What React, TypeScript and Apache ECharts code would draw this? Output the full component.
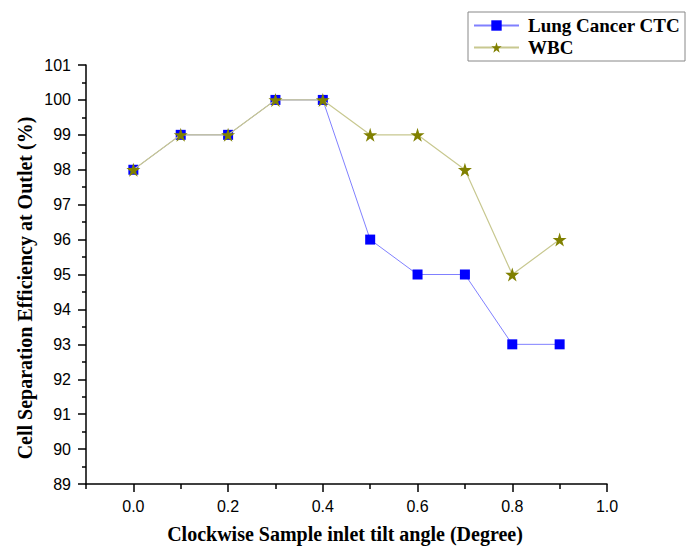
import React, { useEffect, useRef } from "react";
import * as echarts from "echarts";

const angles = [0, 0.1, 0.2, 0.3, 0.4, 0.5, 0.6, 0.7, 0.8, 0.9];
const lungCTC = [98, 99, 99, 100, 100, 96, 95, 95, 93, 93];
const wbc = [98, 99, 99, 100, 100, 99, 99, 98, 95, 96];
const xMajorTicks = [0, 0.2, 0.4, 0.6, 0.8, 1.0];
const xMinorTicks = [-0.1, 0.1, 0.3, 0.5, 0.7, 0.9];
const yTitle = "Cell Separation Efficiency at Outlet (%)";
const xTitle = "Clockwise Sample inlet tilt angle (Degree)";

const STAR =
  "path://M50,0 L61.2,34.5 L97.6,34.5 L68.2,55.9 L79.4,90.5 L50,69.1 L20.6,90.5 L31.8,55.9 L2.4,34.5 L38.8,34.5 Z";

export default function App() {
  const ref = useRef<HTMLDivElement>(null);
  useEffect(() => {
    document.body.style.margin = "0";
    const chart = echarts.init(ref.current!, null, { renderer: "svg" });
    const labelFont = { fontFamily: "Liberation Sans, Arial, sans-serif", fontSize: 16, color: "#000" };
    chart.setOption({
      animation: false,
      backgroundColor: "#fff",
      grid: { left: 86, right: 79, top: 65, bottom: 63, containLabel: false },
      legend: {
        orient: "vertical",
        left: 468,
        top: 12,
        padding: [4, 5, 4, 5],
        itemGap: 3,
        itemWidth: 45,
        itemHeight: 13,
        borderColor: "#888",
        borderWidth: 1,
        textStyle: { fontFamily: "Liberation Serif, Times New Roman, serif", fontWeight: "bold", fontSize: 19, color: "#000", padding: [0, 0, 0, 4] },
        data: ["Lung Cancer CTC", "WBC"],
      },
      xAxis: [
        {
          type: "value",
          min: -0.1,
          max: 1.0,
          interval: 0.1,
          axisLine: { show: true, onZero: false, lineStyle: { color: "#000", width: 1.5 } },
          axisTick: { show: true, length: 8, customValues: xMajorTicks, lineStyle: { color: "#000", width: 1.5 } },
          axisLabel: { ...labelFont, margin: 14, customValues: xMajorTicks, formatter: (v: number) => v.toFixed(1) },
          splitLine: { show: false },
        },
        {
          type: "value",
          min: -0.1,
          max: 1.0,
          interval: 0.1,
          position: "bottom",
          axisLine: { show: false, onZero: false },
          axisTick: { show: true, length: 5, customValues: xMinorTicks, lineStyle: { color: "#000", width: 1.5 } },
          axisLabel: { show: false },
          splitLine: { show: false },
        },
      ],
      yAxis: {
        type: "value",
        min: 89,
        max: 101,
        interval: 1,
        axisLine: { show: true, onZero: false, lineStyle: { color: "#000", width: 1.5 } },
        axisTick: { show: true, length: 8, lineStyle: { color: "#000", width: 1.5 } },
        minorTick: { show: true, splitNumber: 2, length: 4, lineStyle: { color: "#000", width: 1.5 } },
        axisLabel: { ...labelFont, margin: 15 },
        splitLine: { show: false },
        minorSplitLine: { show: false },
      },
      graphic: [
        {
          type: "text",
          x: 25,
          y: 288,
          rotation: Math.PI / 2,
          style: {
            text: yTitle,
            fontFamily: "Liberation Serif, Times New Roman, serif",
            fontWeight: "bold",
            fontSize: 20,
            fill: "#000",
            align: "center",
            verticalAlign: "middle",
          },
        },
        {
          type: "text",
          x: 345,
          y: 534,
          style: {
            text: xTitle,
            fontFamily: "Liberation Serif, Times New Roman, serif",
            fontWeight: "bold",
            fontSize: 20,
            fill: "#000",
            align: "center",
            verticalAlign: "middle",
          },
        },
      ],
      series: [
        {
          name: "Lung Cancer CTC",
          type: "line",
          data: angles.map((a, i) => [a, lungCTC[i]]),
          symbol: "rect",
          symbolSize: 10,
          itemStyle: { color: "#0000ff" },
          lineStyle: { color: "#8080ff", width: 1 },
          z: 2,
        },
        {
          name: "WBC",
          type: "line",
          data: angles.map((a, i) => [a, wbc[i]]),
          symbol: STAR,
          symbolSize: 14,
          itemStyle: { color: "#808000" },
          lineStyle: { color: "#c8c890", width: 1.2 },
          z: 3,
        },
      ],
    });
    return () => chart.dispose();
  }, []);
  return <div ref={ref} style={{ width: 686, height: 547 }} />;
}
